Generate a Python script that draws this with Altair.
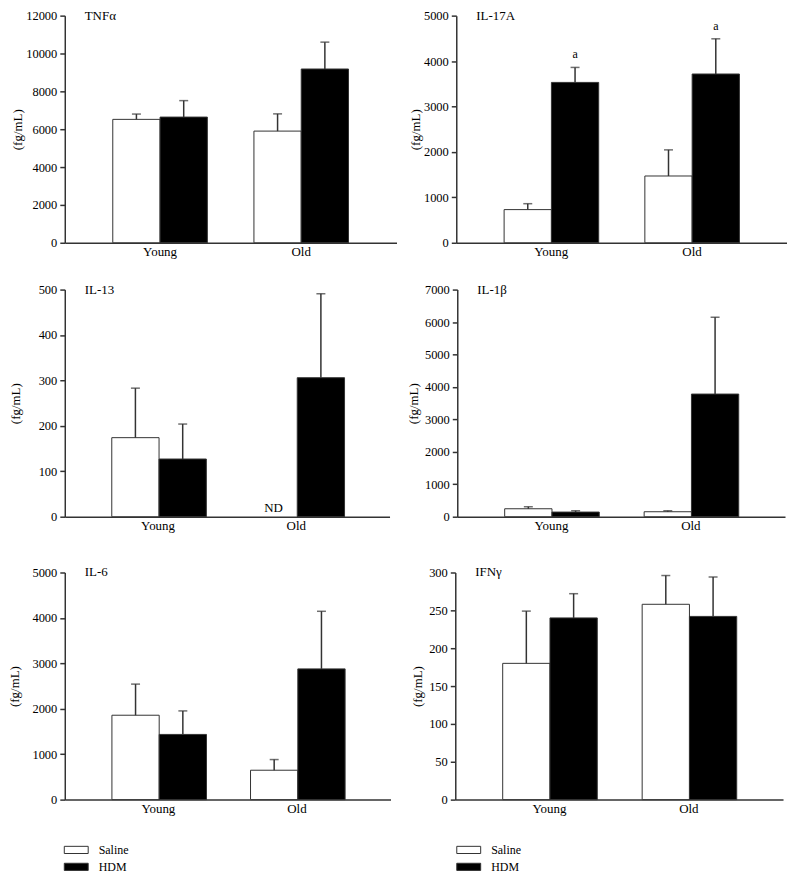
import altair as alt
import pandas as pd

FONT = "Liberation Serif"

cytokines = ["TNFα", "IL-17A", "IL-13", "IL-1β", "IL-6", "IFNγ"]
ages = ["Young", "Old"]
treatments = ["Saline", "HDM"]

# order in every list: Young-Saline, Young-HDM, Old-Saline, Old-HDM
row_age = ["Young", "Young", "Old", "Old"]
row_treat = ["Saline", "HDM", "Saline", "HDM"]

tnf_mean = [6520, 6640, 5900, 9180]
tnf_sem = [280, 870, 910, 1420]
il17_mean = [730, 3530, 1470, 3715]
il17_sem = [130, 330, 575, 775]
il13_mean = [174, 127, None, 306]
il13_sem = [109, 77, None, 185]
il1b_mean = [245, 143, 153, 3780]
il1b_sem = [62, 41, 31, 2370]
il6_mean = [1858, 1435, 647, 2878]
il6_sem = [685, 518, 235, 1268]
ifng_mean = [180, 240, 258, 242]
ifng_sem = [69, 32, 38, 52]

means = [tnf_mean, il17_mean, il13_mean, il1b_mean, il6_mean, ifng_mean]
sems = [tnf_sem, il17_sem, il13_sem, il1b_sem, il6_sem, ifng_sem]

y_max = [12000, 5000, 500, 7000, 5000, 300]
y_step = [2000, 1000, 100, 1000, 1000, 50]

sig_letters = {"IL-17A": ["", "a", "", "a"]}
nd_marks = {"IL-13": ["", "", "ND", ""]}

# layout per panel: plot width, y-axis extent, legend position
panel_width = [333, 332, 326, 329, 327, 329]
axis_extent = [38, 32, 40, 35, 41, 29]
legend_pos = {4: (5, 272), 5: (7, 272)}

INK = "#333333"


def panel(i):
    name = cytokines[i]
    df = pd.DataFrame({"age": row_age, "treat": row_treat,
                       "mean": means[i], "sem": sems[i]})
    df["upper"] = df["mean"] + df["sem"]
    bars_df = df.dropna()
    tick_vals = list(range(0, y_max[i] + 1, y_step[i]))

    x = alt.X("age:N", sort=ages,
              scale=alt.Scale(paddingInner=0.33, paddingOuter=0.34),
              axis=alt.Axis(title=None, ticks=False, labelAngle=0, labelPadding=3,
                            labelFontSize=13))
    xo = alt.XOffset("treat:N", sort=treatments,
                     scale=alt.Scale(paddingInner=0, paddingOuter=0))
    y = alt.Y("mean:Q", scale=alt.Scale(domain=[0, y_max[i]], nice=False),
              axis=alt.Axis(title="(fg/mL)", values=tick_vals, tickCount=len(tick_vals),
                            format="d", minExtent=axis_extent[i], maxExtent=axis_extent[i],
                            titlePadding=2, labelOverlap=False))
    if i in legend_pos:
        lx, ly = legend_pos[i]
        legend = alt.Legend(orient="none", legendX=lx, legendY=ly, title=None,
                            symbolType="M-2,-0.6H2V0.6H-2Z", symbolSize=144,
                            symbolStrokeColor=INK, symbolStrokeWidth=1,
                            labelFont=FONT, labelFontSize=12, labelColor="black",
                            labelOffset=16, rowPadding=4, padding=0)
    else:
        legend = None
    fill = alt.Fill("treat:N", scale=alt.Scale(domain=treatments, range=["#ffffff", "#000000"]),
                    legend=legend)

    base = alt.Chart(bars_df)
    bars = base.mark_bar(stroke=INK, strokeWidth=1).encode(x=x, xOffset=xo, y=y, fill=fill)
    rules = base.mark_rule(color=INK, strokeWidth=1.5).encode(
        x=x, xOffset=xo, y="mean:Q", y2="upper:Q")
    caps = base.mark_tick(color=INK, thickness=1.5, size=9, orient="horizontal").encode(
        x=x, xOffset=xo, y="upper:Q")
    title = alt.Chart(pd.DataFrame({"t": [name]})).mark_text(
        align="left", baseline="middle", font=FONT, fontSize=13, color="black"
    ).encode(x=alt.value(20), y=alt.value(0), text="t:N")

    layers = [bars, rules, caps, title]
    if name in sig_letters:
        sdf = df.copy()
        sdf["lab"] = sig_letters[name]
        sdf = sdf[sdf["lab"] != ""]
        layers.append(alt.Chart(sdf).mark_text(
            baseline="middle", dy=-13, font=FONT, fontSize=12, color="black"
        ).encode(x=x, xOffset=xo, y="upper:Q", text="lab:N"))
    if name in nd_marks:
        ndf = df.copy()
        ndf["lab"] = nd_marks[name]
        ndf["zero"] = 0
        ndf = ndf[ndf["lab"] != ""]
        layers.append(alt.Chart(ndf).mark_text(
            baseline="alphabetic", dy=-5, font=FONT, fontSize=13, color="black"
        ).encode(x=x, xOffset=xo, y="zero:Q", text="lab:N"))

    return alt.layer(*layers).properties(width=panel_width[i], height=228)


def row(a, b, sp):
    return alt.hconcat(panel(a), panel(b), spacing=sp).resolve_scale(
        fill="independent").resolve_legend(fill="independent")


top = alt.vconcat(row(0, 1, 13), row(2, 3, 18), spacing=25).resolve_scale(
    fill="independent").resolve_legend(fill="independent")
chart = alt.vconcat(top, row(4, 5, 21), spacing=34).resolve_scale(
    fill="independent").resolve_legend(fill="independent").properties(
    padding={"left": 1, "top": 0, "right": 0, "bottom": 0}
).configure_view(stroke=None).configure_axis(
    grid=False, domainColor=INK, domainWidth=1.5, tickColor=INK, tickWidth=1.5, tickSize=5,
    labelFont=FONT, labelFontSize=12.5, labelColor="black", labelPadding=3,
    titleFont=FONT, titleFontSize=13, titleFontWeight="normal", titleColor="black"
).configure_text(font=FONT)

chart.save("out.html", embed_options={"renderer": "svg", "actions": False})
